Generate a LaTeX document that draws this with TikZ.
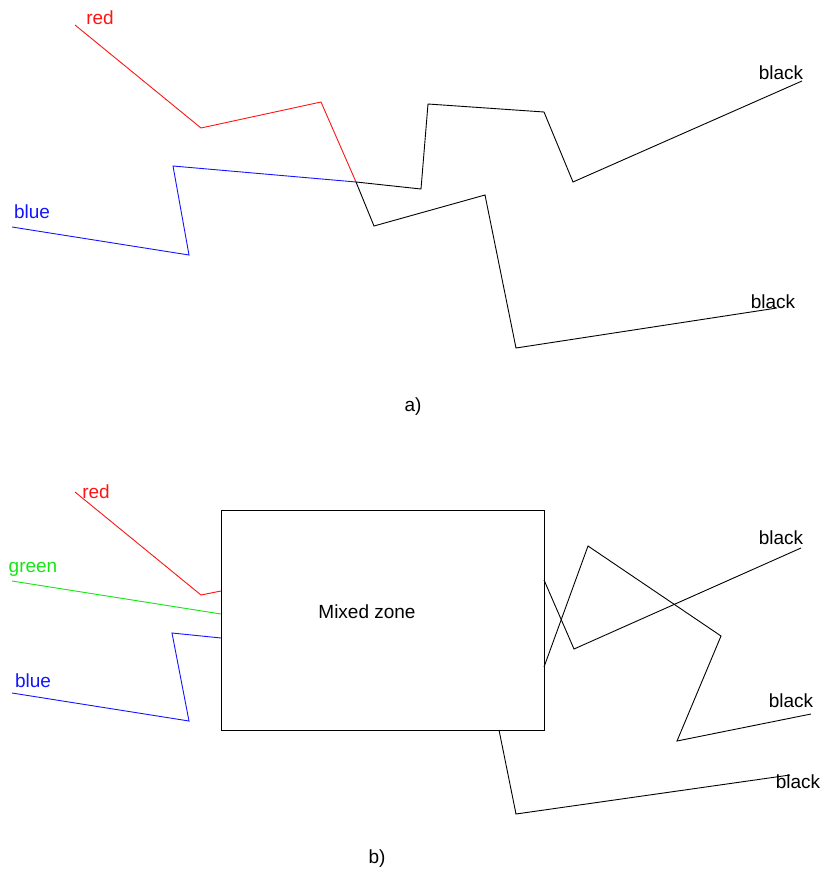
\documentclass[tikz,border=0pt]{standalone}
\usepackage{fontspec}
\setmainfont{Liberation Sans}
\begin{document}
\begin{tikzpicture}[x=1pt,y=-1pt,
  lbl/.style={inner sep=0pt,font=\fontsize{19}{22}\selectfont},
  wire/.style={line width=0.9pt,line join=miter},
  redline/.style={wire,draw={rgb,255:red,255;green,20;blue,20}},
  blueline/.style={wire,draw={rgb,255:red,20;green,20;blue,255}},
  greenline/.style={wire,draw={rgb,255:red,20;green,230;blue,20}},
  blackline/.style={wire,draw=black}]
\useasboundingbox (0,0) rectangle (826,875);
% ---------- a) ----------
\node[lbl,text={rgb,255:red,255;green,20;blue,20}] (ra) at (100,18) {red};
\node[lbl,text={rgb,255:red,20;green,20;blue,255}] (ba) at (32,212) {blue};
\node[lbl] (k1a) at (781,73) {black};
\node[lbl] (k2a) at (773,302) {black};
\node[lbl] (capa) at (413,407) {a)};
\coordinate (xa) at (356,182);
\coordinate (r0) at (75,25);
\coordinate (r1) at (201,128);
\coordinate (r2) at (321,102);
\coordinate (b0) at (12,227);
\coordinate (b1) at (189,255);
\coordinate (b2) at (173,166);
\coordinate (p1) at (421,189);
\coordinate (p2) at (428,104);
\coordinate (p3) at (544,112);
\coordinate (p4) at (573,182);
\coordinate (p5) at (802,81);
\coordinate (q1) at (374,226);
\coordinate (q2) at (485,195);
\coordinate (q3) at (516,348);
\coordinate (q4) at (777,308);
\draw[redline] (r0) -- (r1) -- (r2) -- (xa);
\draw[blueline] (b0) -- (b1) -- (b2) -- (xa);
\draw[blackline] (xa) -- (p1) -- (p2) -- (p3) -- (p4) -- (p5);
\draw[blackline] (xa) -- (q1) -- (q2) -- (q3) -- (q4);
% ---------- b) ----------
\node[draw,line width=0.9pt,minimum width=323pt,minimum height=220pt,inner sep=0pt] (mix) at (382.5,620) {};
\node[lbl] (mixt) at (367,612) {Mixed zone};
\node[lbl,text={rgb,255:red,255;green,20;blue,20}] (rb) at (96,492) {red};
\node[lbl,text={rgb,255:red,20;green,230;blue,20}] (gb) at (33,569) {green};
\node[lbl,text={rgb,255:red,20;green,20;blue,255}] (bb) at (33,681) {blue};
\node[lbl] (k1b) at (781,538) {black};
\node[lbl] (k2b) at (791,701) {black};
\node[lbl] (k3b) at (798,782) {black};
\node[lbl] (capb) at (377,859) {b)};
\coordinate (rr0) at (75,492);
\coordinate (rr1) at (201,595);
\coordinate (rr2) at (221,591);
\coordinate (gg0) at (12,581);
\coordinate (gg1) at (221,614);
\coordinate (bb0) at (12,693);
\coordinate (bb1) at (189,721);
\coordinate (bb2) at (172,633);
\coordinate (bb3) at (221,638);
\coordinate (s0) at (544,580);
\coordinate (s1) at (574,649);
\coordinate (s2) at (801,548);
\coordinate (t0) at (544,667);
\coordinate (t1) at (588,546);
\coordinate (t2) at (721,636);
\coordinate (t3) at (677,741);
\coordinate (t4) at (811,714);
\coordinate (u0) at (499,730);
\coordinate (u1) at (516,814);
\coordinate (u2) at (790,775);
\draw[redline] (rr0) -- (rr1) -- (rr2);
\draw[greenline] (gg0) -- (gg1);
\draw[blueline] (bb0) -- (bb1) -- (bb2) -- (bb3);
\draw[blackline] (s0) -- (s1) -- (s2);
\draw[blackline] (t0) -- (t1) -- (t2) -- (t3) -- (t4);
\draw[blackline] (u0) -- (u1) -- (u2);
\end{tikzpicture}
\end{document}
